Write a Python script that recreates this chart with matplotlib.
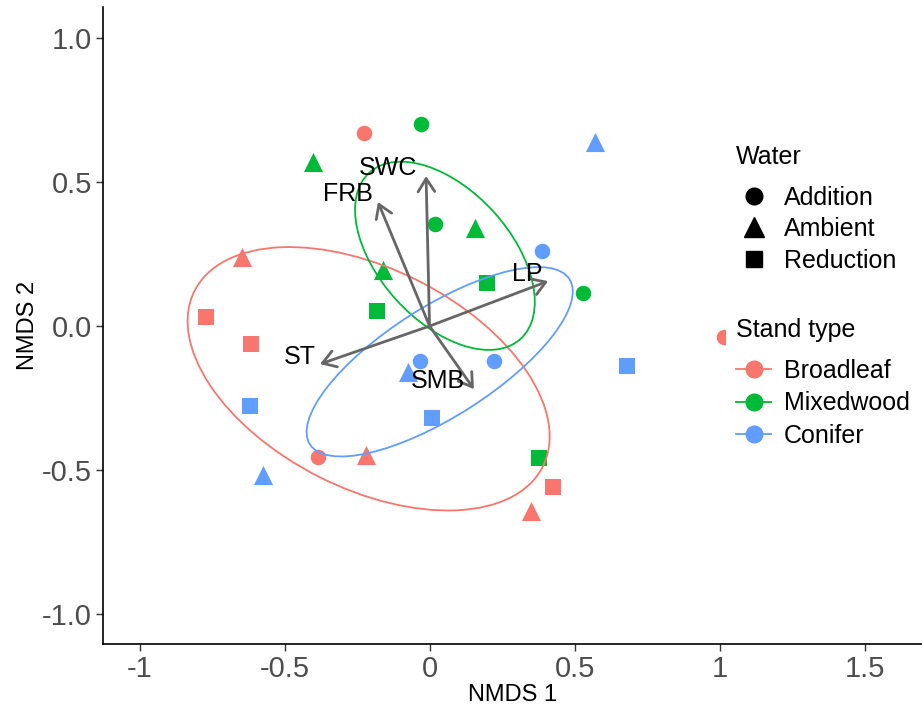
import matplotlib
matplotlib.use("Agg")
import matplotlib.pyplot as plt
from matplotlib.patches import Ellipse
from matplotlib.lines import Line2D

plt.rcParams['font.family'] = ['Liberation Sans', 'DejaVu Sans']

stand_types = ['Broadleaf', 'Mixedwood', 'Conifer']
stand_colors = ['#F8766D', '#00BA38', '#619CFF']
water_levels = ['Addition', 'Ambient', 'Reduction']
water_markers = {'Addition': 'o', 'Ambient': '^', 'Reduction': 's'}
marker_size = {'Addition': 125, 'Ambient': 190, 'Reduction': 140}

# site scores
broadleaf_water = ['Addition', 'Ambient', 'Reduction', 'Reduction', 'Addition',
                   'Ambient', 'Reduction', 'Ambient', 'Addition']
broadleaf_x = [-0.226, -0.647, -0.771, -0.616, -0.384, -0.219, 0.426, 0.350, 1.014]
broadleaf_y = [0.672, 0.240, 0.031, -0.063, -0.455, -0.448, -0.559, -0.642, -0.038]

mixedwood_water = ['Addition', 'Ambient', 'Addition', 'Ambient', 'Ambient',
                   'Reduction', 'Reduction', 'Addition', 'Reduction']
mixedwood_x = [-0.029, -0.402, 0.019, 0.157, -0.160, 0.198, -0.181, 0.529, 0.378]
mixedwood_y = [0.701, 0.569, 0.354, 0.340, 0.194, 0.149, 0.052, 0.115, -0.458]

conifer_water = ['Ambient', 'Addition', 'Addition', 'Ambient', 'Addition',
                 'Reduction', 'Reduction', 'Reduction', 'Ambient']
conifer_x = [0.571, 0.388, -0.033, -0.074, 0.222, 0.681, -0.619, 0.009, -0.574]
conifer_y = [0.639, 0.260, -0.122, -0.160, -0.122, -0.139, -0.278, -0.319, -0.517]

# 95% ellipses per stand type (centre, full width/height, angle)
ellipse_cx = [-0.210, 0.053, 0.035]
ellipse_cy = [-0.183, 0.244, -0.124]
ellipse_w = [1.347, 0.778, 1.063]
ellipse_h = [0.762, 0.454, 0.381]
ellipse_angle = [-27.1, -48.1, 32.7]

# fitted environmental vectors
vec_names = ['SWC', 'FRB', 'LP', 'ST', 'SMB']
vec_x = [-0.012, -0.178, 0.409, -0.378, 0.153]
vec_y = [0.521, 0.431, 0.156, -0.132, -0.219]
label_x = [-0.143, -0.281, 0.336, -0.447, 0.029]
label_y = [0.548, 0.458, 0.180, -0.108, -0.191]

x_ticks = [-1, -0.5, 0, 0.5, 1, 1.5]
x_ticklabels = ['-1', '-0.5', '0', '0.5', '1', '1.5']
y_ticks = [-1.0, -0.5, 0.0, 0.5, 1.0]
y_ticklabels = ['-1.0', '-0.5', '0.0', '0.5', '1.0']

groups = [(broadleaf_x, broadleaf_y, broadleaf_water),
          (mixedwood_x, mixedwood_y, mixedwood_water),
          (conifer_x, conifer_y, conifer_water)]

fig = plt.figure(figsize=(9.22, 7.08), dpi=100)
ax = fig.add_axes([103 / 922, 64 / 708, 819 / 922, 637 / 708])

for (xs, ys, ws), col in zip(groups, stand_colors):
    for w in water_levels:
        px = [x for x, ww in zip(xs, ws) if ww == w]
        py = [y for y, ww in zip(ys, ws) if ww == w]
        ax.scatter(px, py, marker=water_markers[w], s=marker_size[w], color=col,
                   linewidths=0, zorder=2)

for i, col in enumerate(stand_colors):
    e = Ellipse((ellipse_cx[i], ellipse_cy[i]), ellipse_w[i], ellipse_h[i],
                angle=ellipse_angle[i], fill=False, edgecolor=col, lw=1.3, zorder=3)
    ax.add_patch(e)

for name, vx, vy, lx, ly in zip(vec_names, vec_x, vec_y, label_x, label_y):
    ax.annotate('', xy=(vx, vy), xytext=(0, 0),
                arrowprops=dict(arrowstyle='->,head_length=0.47,head_width=0.3',
                                color='#666666', lw=2, shrinkA=0, shrinkB=0,
                                mutation_scale=20),
                zorder=4)
    ax.text(lx, ly, name, fontsize=18, ha='center', va='center', color='black', zorder=5)

ax.set_xlim(-1.126, 1.698)
ax.set_ylim(-1.104, 1.108)
ax.set_xticks(x_ticks)
ax.set_xticklabels(x_ticklabels)
ax.set_yticks(y_ticks)
ax.set_yticklabels(y_ticklabels)
ax.tick_params(length=5, width=1, color='#333333', labelsize=21,
               labelcolor='#4D4D4D', pad=3)
for s in ['top', 'right']:
    ax.spines[s].set_visible(False)
for s in ['left', 'bottom']:
    ax.spines[s].set_linewidth(1.2)
ax.set_xlabel('NMDS 1', fontsize=17, labelpad=0.5)
ax.set_ylabel('NMDS 2', fontsize=17, labelpad=2)

legend_kw = dict(loc='upper left', bbox_transform=fig.transFigure,
                 fontsize=18, title_fontsize=18, frameon=True, facecolor='white',
                 edgecolor='none', framealpha=1, borderaxespad=0, borderpad=0.4,
                 handlelength=1.4, handletextpad=0.5, alignment='left', fancybox=False)

water_handles = [Line2D([], [], marker=water_markers[w], color='black', linestyle='none',
                        markersize=12 if w != 'Ambient' else 14) for w in water_levels]
leg1 = ax.legend(water_handles, water_levels, title='Water',
                 bbox_to_anchor=(726 / 922, 1 - 135 / 708), labelspacing=0.3, **legend_kw)
leg1._legend_box.sep = 12
leg1.set_zorder(10)
ax.add_artist(leg1)

stand_handles = [Line2D([], [], marker='o', color=c, linestyle='-', lw=1.3,
                        markersize=12) for c in stand_colors]
leg2 = ax.legend(stand_handles, stand_types, title='Stand type',
                 bbox_to_anchor=(726 / 922, 1 - 308 / 708), labelspacing=0.35, **legend_kw)
leg2._legend_box.sep = 12
leg2.set_zorder(10)

fig.savefig('out.png', dpi=100)
